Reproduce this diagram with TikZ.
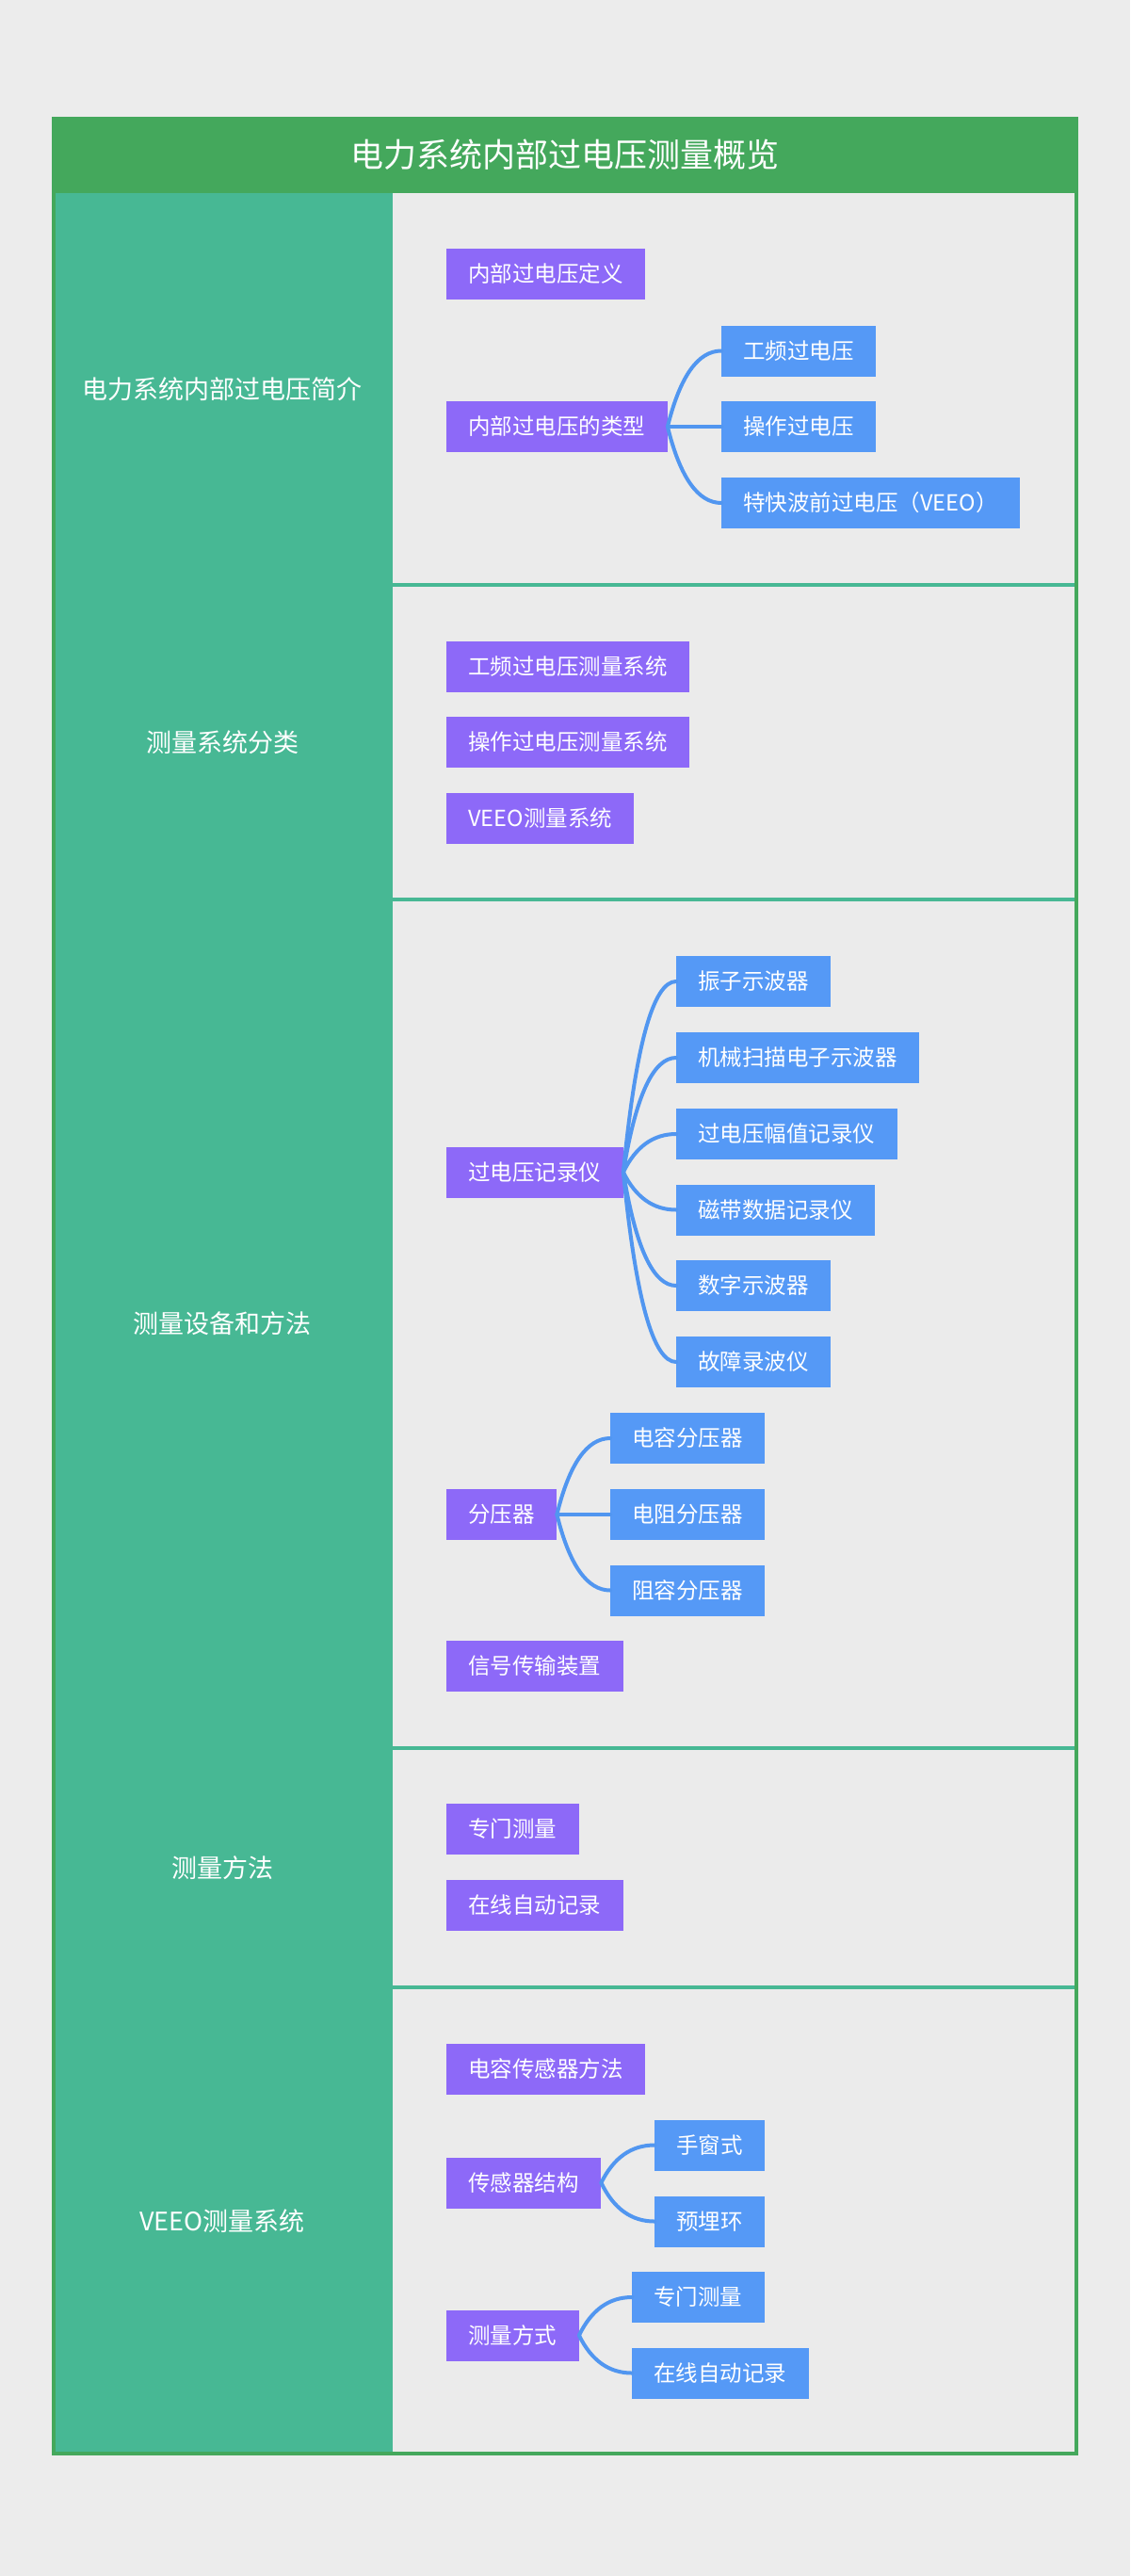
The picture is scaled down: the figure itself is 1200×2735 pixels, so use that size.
\documentclass[tikz,border=0pt]{standalone}
\usepackage{fontspec}
\setmainfont{Noto Sans CJK SC}
\usetikzlibrary{calc}
\definecolor{bgc}{HTML}{ECECEC}
\definecolor{panelc}{HTML}{EBEBEB}
\definecolor{titlec}{HTML}{44A85C}
\definecolor{tealc}{HTML}{47B894}
\definecolor{purpc}{HTML}{8D69F8}
\definecolor{bluec}{HTML}{5599F6}
\definecolor{connc}{HTML}{5196F0}
\tikzset{
  box/.style={anchor=west, minimum height=54pt, inner xsep=23.25pt, inner ysep=0pt,
    text=white, font=\fontsize{23.5}{28}\selectfont, text height=19.5pt, text depth=1.8pt},
  pbox/.style={box, fill=purpc},
  bbox/.style={box, fill=bluec},
  conn/.style={draw=connc, line width=4pt, line cap=round},
  sidelabel/.style={text=white, font=\fontsize{27}{32}\selectfont},
  titlelabel/.style={text=white, font=\fontsize{35}{40}\selectfont},
  sepline/.style={draw=tealc, line width=4pt}
}
\newcommand\brch[2]{%
  \coordinate (bA) at ($(#1.east)!0.233!(#2.west)$);
  \coordinate (bB) at ($(#1.east)!0.667!(#2.west)$);
  \coordinate (bC) at ($(#1.east)!0.567!(#2.west)$);
  \draw[conn] (#1.east) .. controls (bA |- bB) and (bC |- #2.west) .. (#2.west);}
\begin{document}
\begin{tikzpicture}[x=1pt, y=-1pt]
\useasboundingbox (0,0) rectangle (1200,2735);
\fill[bgc] (0,0) rectangle (1200,2735);
% frame
\fill[titlec] (55,124) rectangle (1145,205);
\fill[tealc] (55,205) rectangle (417,2607);
\fill[panelc] (417,205) rectangle (1143,2605);
\draw[sepline] (417,621) -- (1143,621);
\draw[sepline] (417,955) -- (1143,955);
\draw[sepline] (417,1856) -- (1143,1856);
\draw[sepline] (417,2110) -- (1143,2110);
\draw[draw=titlec, line width=4pt] (57,126) rectangle (1143,2605);
\node[titlelabel] (title) at (600,164) {电力系统内部过电压测量概览};
% side labels
\node[sidelabel] (s1) at (236,413) {电力系统内部过电压简介};
\node[sidelabel] (s2) at (236,788) {测量系统分类};
\node[sidelabel] (s3) at (236,1405) {测量设备和方法};
\node[sidelabel] (s4) at (236,1983) {测量方法};
\node[sidelabel] (s5) at (236,2358) {VEEO测量系统};
% section 1
\node[pbox] (a1) at (474,291) {内部过电压定义};
\node[pbox] (a2) at (474,453) {内部过电压的类型};
\node[bbox] (a21) at (766,372.5) {工频过电压};
\node[bbox] (a22) at (766,453) {操作过电压};
\node[bbox] (a23) at (766,534) {特快波前过电压（VEEO）};
\brch{a2}{a21}\brch{a2}{a22}\brch{a2}{a23}
% section 2
\node[pbox] (b1) at (474,707.5) {工频过电压测量系统};
\node[pbox] (b2) at (474,788) {操作过电压测量系统};
\node[pbox] (b3) at (474,868.5) {VEEO测量系统};
% section 3
\node[pbox] (c1) at (474,1244.5) {过电压记录仪};
\node[bbox] (c11) at (718,1042) {振子示波器};
\node[bbox] (c12) at (718,1123) {机械扫描电子示波器};
\node[bbox] (c13) at (718,1204) {过电压幅值记录仪};
\node[bbox] (c14) at (718,1284.5) {磁带数据记录仪};
\node[bbox] (c15) at (718,1365) {数字示波器};
\node[bbox] (c16) at (718,1446) {故障录波仪};
\brch{c1}{c11}\brch{c1}{c12}\brch{c1}{c13}\brch{c1}{c14}\brch{c1}{c15}\brch{c1}{c16}
\node[pbox] (c2) at (474,1608) {分压器};
\node[bbox] (c21) at (648,1527) {电容分压器};
\node[bbox] (c22) at (648,1608) {电阻分压器};
\node[bbox] (c23) at (648,1688.5) {阻容分压器};
\brch{c2}{c21}\brch{c2}{c22}\brch{c2}{c23}
\node[pbox] (c3) at (474,1769) {信号传输装置};
% section 4
\node[pbox] (d1) at (474,1942) {专门测量};
\node[pbox] (d2) at (474,2023) {在线自动记录};
% section 5
\node[pbox] (e1) at (474,2196.5) {电容传感器方法};
\node[pbox] (e2) at (474,2317.5) {传感器结构};
\node[bbox] (e21) at (695,2277.5) {手窗式};
\node[bbox] (e22) at (695,2358.5) {预埋环};
\brch{e2}{e21}\brch{e2}{e22}
\node[pbox] (e3) at (474,2479.5) {测量方式};
\node[bbox] (e31) at (671,2439) {专门测量};
\node[bbox] (e32) at (671,2519.5) {在线自动记录};
\brch{e3}{e31}\brch{e3}{e32}
\end{tikzpicture}
\end{document}
